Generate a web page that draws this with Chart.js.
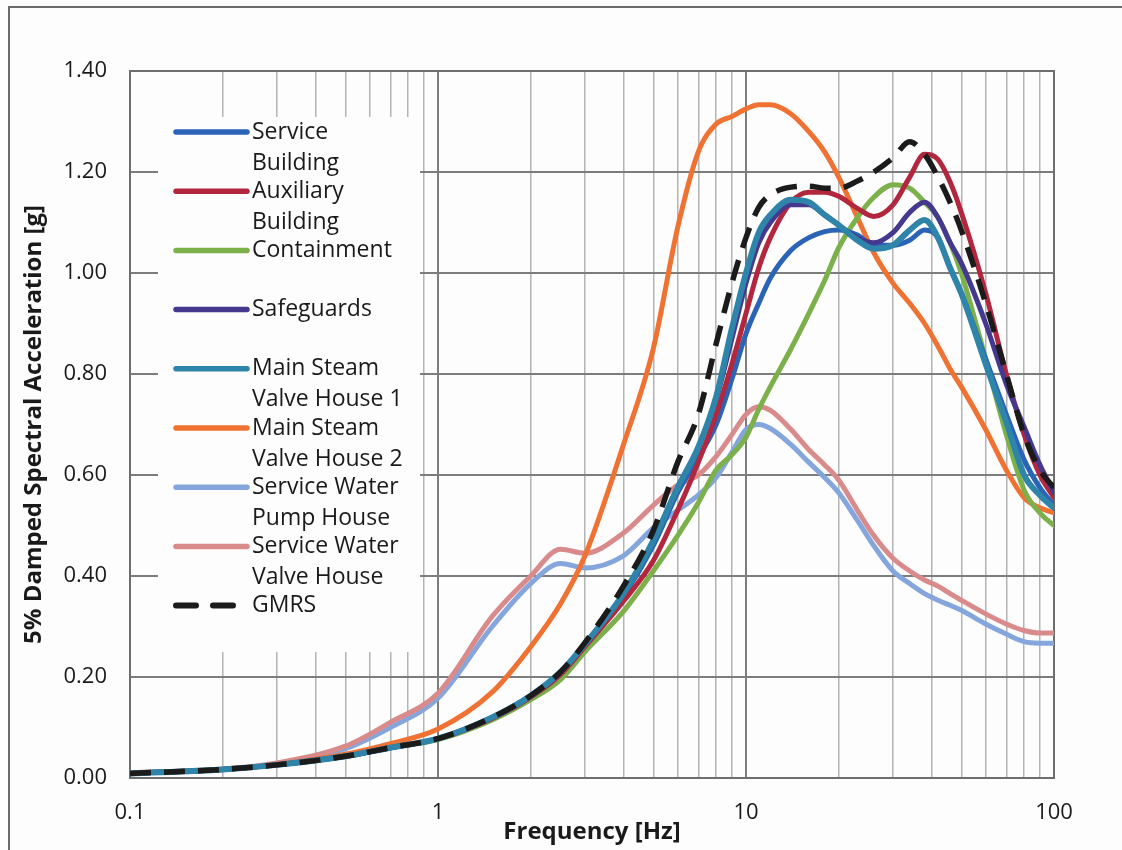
<!DOCTYPE html>
<html>
<head>
<meta charset="utf-8">
<script src="https://cdn.jsdelivr.net/npm/chart.js@4.4.1/dist/chart.umd.min.js"></script>
<style>
  html, body { margin: 0; padding: 0; background: #fdfdfd; }
  #wrap { width: 1122px; height: 850px; position: relative; }
</style>
</head>
<body>
<div id="wrap"><canvas id="c" width="1122" height="850"></canvas></div>
<script>
// ---- Data ----
const freqs = [0.1,0.2,0.3,0.5,0.7,1,1.5,2,2.5,3,4,5,6,7,8,9,10,11,12,14,16,18,20,23,26,30,34,38,42,46,50,60,70,80,90,100];

const serviceBuilding   = [0.009,0.017,0.026,0.043,0.060,0.078,0.120,0.162,0.207,0.262,0.360,0.460,0.565,0.635,0.700,0.790,0.880,0.940,0.990,1.045,1.070,1.082,1.085,1.075,1.055,1.055,1.065,1.085,1.070,1.010,0.960,0.830,0.720,0.630,0.575,0.540];
const auxiliaryBuilding = [0.009,0.017,0.026,0.043,0.060,0.078,0.118,0.160,0.205,0.260,0.350,0.430,0.530,0.625,0.720,0.820,0.920,1.010,1.070,1.140,1.160,1.160,1.152,1.128,1.112,1.135,1.190,1.235,1.225,1.180,1.120,0.960,0.800,0.680,0.600,0.555];
const containment       = [0.009,0.017,0.026,0.043,0.060,0.076,0.115,0.155,0.195,0.250,0.330,0.410,0.480,0.545,0.610,0.640,0.675,0.730,0.775,0.850,0.920,0.985,1.050,1.110,1.150,1.175,1.168,1.140,1.110,1.060,1.000,0.830,0.680,0.570,0.525,0.500];
const safeguards        = [0.009,0.017,0.026,0.043,0.060,0.078,0.120,0.163,0.210,0.265,0.365,0.470,0.575,0.655,0.750,0.870,0.980,1.060,1.100,1.135,1.135,1.115,1.095,1.070,1.060,1.080,1.120,1.140,1.110,1.060,1.020,0.900,0.780,0.695,0.620,0.565];
const mainSteamVH1      = [0.009,0.017,0.026,0.043,0.060,0.078,0.120,0.163,0.210,0.265,0.365,0.470,0.575,0.655,0.755,0.890,1.000,1.080,1.115,1.145,1.140,1.115,1.095,1.065,1.048,1.055,1.085,1.105,1.070,1.010,0.960,0.820,0.705,0.600,0.560,0.535];
const mainSteamVH2      = [0.009,0.017,0.027,0.047,0.068,0.097,0.170,0.260,0.345,0.440,0.660,0.850,1.090,1.240,1.295,1.310,1.325,1.333,1.333,1.315,1.280,1.240,1.190,1.110,1.040,0.980,0.940,0.900,0.855,0.810,0.775,0.690,0.610,0.555,0.535,0.525];
const swPumpHouse       = [0.009,0.017,0.028,0.058,0.100,0.158,0.300,0.385,0.425,0.416,0.440,0.495,0.530,0.560,0.595,0.645,0.690,0.700,0.692,0.660,0.625,0.595,0.565,0.510,0.460,0.410,0.385,0.365,0.352,0.342,0.332,0.305,0.285,0.270,0.267,0.267];
const swValveHouse      = [0.010,0.018,0.030,0.063,0.110,0.168,0.320,0.400,0.453,0.445,0.485,0.540,0.580,0.600,0.637,0.680,0.720,0.735,0.728,0.690,0.650,0.620,0.590,0.530,0.480,0.435,0.410,0.392,0.380,0.365,0.352,0.325,0.305,0.292,0.287,0.287];
const gmrs              = [0.009,0.017,0.026,0.043,0.060,0.078,0.120,0.163,0.210,0.268,0.380,0.490,0.625,0.720,0.860,0.980,1.070,1.130,1.155,1.170,1.172,1.168,1.168,1.182,1.200,1.228,1.260,1.235,1.190,1.140,1.085,0.940,0.800,0.680,0.610,0.575];

const seriesNames = ['Service\nBuilding','Auxiliary\nBuilding','Containment','Safeguards','Main Steam\nValve House 1','Main Steam\nValve House 2','Service Water\nPump House','Service Water\nValve House','GMRS'];
const seriesValues = [serviceBuilding, auxiliaryBuilding, containment, safeguards, mainSteamVH1, mainSteamVH2, swPumpHouse, swValveHouse, gmrs];
const seriesColors = ['#2b63b6','#b2273d','#7bb04b','#45398f','#2f84aa','#f07232','#84a6dc','#d98b8c','#1b1b1b'];
const seriesOrder  = [4, 3, 5, 2, 1, 6, 8, 7, 0];

const xMajorTicks = [0.1, 1, 10, 100];
const xTickLabels = ['0.1', '1', '10', '100'];
const xGridValues = [0.1,0.2,0.3,0.4,0.5,0.6,0.7,0.8,0.9,1,2,3,4,5,6,7,8,9,10,20,30,40,50,60,70,80,90,100];
const yMin = 0, yMax = 1.4, yStep = 0.2;

const FONT = "'Open Sans', 'DejaVu Sans', sans-serif";
const TEXT = '#1a1a1a';
const MAJOR = '#7d7d7d';
const MINOR = '#b4b4b4';

const isMajor = v => xMajorTicks.some(m => Math.abs(Math.log10(v) - Math.log10(m)) < 1e-6);

const datasets = seriesValues.map((vals, i) => ({
  label: seriesNames[i].replace('\n', ' '),
  data: freqs.map((f, k) => ({ x: f, y: vals[k] })),
  borderColor: seriesColors[i],
  backgroundColor: seriesColors[i],
  borderWidth: i === 8 ? 5.5 : (i === 4 ? 6 : 5),
  borderDash: i === 8 ? [21, 13] : [],
  borderCapStyle: i === 8 ? 'butt' : 'round',
  borderJoinStyle: 'round',
  pointRadius: 0,
  cubicInterpolationMode: 'monotone',
  fill: false,
  order: seriesOrder[i]
}));

const framePlugin = {
  id: 'frame',
  beforeDraw(chart) {
    const ctx = chart.ctx;
    ctx.save();
    ctx.fillStyle = '#fdfdfd';
    ctx.fillRect(0, 0, chart.width, chart.height);
    ctx.strokeStyle = '#6a6a6a';
    ctx.lineWidth = 2;
    ctx.strokeRect(9, 7, chart.width + 20, chart.height + 20);
    ctx.restore();
  },
  beforeDatasetsDraw(chart) {
    const ctx = chart.ctx;
    const a = chart.chartArea;
    ctx.save();
    // legend box (white, covers grid)
    const bx = a.left + 28, by = a.top + 46, bw = 262, bh = 535;
    ctx.fillStyle = '#fdfdfd';
    ctx.fillRect(bx, by, bw, bh);
    // plot frame
    ctx.strokeStyle = '#6e6e6e';
    ctx.lineWidth = 2;
    ctx.strokeRect(a.left, a.top, a.right - a.left, a.bottom - a.top);
    // legend entries
    ctx.font = "23px " + FONT;
    ctx.textBaseline = 'middle';
    ctx.textAlign = 'left';
    const x0 = a.left + 44, x1 = a.left + 117, tx = a.left + 122;
    seriesNames.forEach((name, i) => {
      const y = a.top + 61 + i * 59.2;
      ctx.save();
      ctx.strokeStyle = seriesColors[i];
      ctx.lineWidth = i === 8 ? 6 : 5.5;
      ctx.lineCap = 'round';
      if (i === 8) ctx.setLineDash([20, 17]);
      ctx.beginPath();
      ctx.moveTo(x0 + 2, y);
      ctx.lineTo(x1, y);
      ctx.stroke();
      ctx.restore();
      ctx.fillStyle = TEXT;
      name.split('\n').forEach((line, j) => ctx.fillText(line, tx, y + j * 31));
    });
    ctx.restore();
  }
};

new Chart(document.getElementById('c'), {
  type: 'line',
  data: { datasets },
  plugins: [framePlugin],
  options: {
    responsive: false,
    animation: false,
    devicePixelRatio: 1,
    layout: { padding: { left: 0, top: 71, right: 68, bottom: 0 } },
    plugins: { legend: { display: false }, tooltip: { enabled: false } },
    scales: {
      x: {
        type: 'logarithmic',
        min: 0.1, max: 100,
        afterBuildTicks(scale) {
          scale.ticks = xGridValues.map(v => ({ value: v, major: isMajor(v) }));
        },
        afterFit(scale) { scale.height = 72; },
        ticks: {
          autoSkip: false, maxRotation: 0, minRotation: 0,
          padding: 22,
          color: TEXT,
          font: { family: FONT, size: 22 },
          callback(value) {
            const idx = xMajorTicks.findIndex(m => Math.abs(Math.log10(value) - Math.log10(m)) < 1e-6);
            return idx >= 0 ? xTickLabels[idx] : '';
          }
        },
        grid: {
          drawTicks: false,
          color: c => (c.tick && isMajor(c.tick.value)) ? MAJOR : MINOR,
          lineWidth: c => (c.tick && isMajor(c.tick.value)) ? 2 : 1.5
        },
        border: { display: true, color: '#6e6e6e', width: 2 },
        title: {
          display: true, text: 'Frequency [Hz]', color: TEXT,
          font: { family: FONT, size: 24, weight: 'bold' },
          padding: { top: 0, bottom: 3 }
        }
      },
      y: {
        type: 'linear',
        min: yMin, max: yMax,
        afterFit(scale) { scale.width = 130; },
        ticks: {
          stepSize: yStep,
          padding: 23,
          color: TEXT,
          font: { family: FONT, size: 22 },
          callback: v => Number(v).toFixed(2)
        },
        grid: { drawTicks: false, color: MAJOR, lineWidth: 2 },
        border: { display: true, color: '#6e6e6e', width: 2 },
        title: {
          display: true, text: '5% Damped Spectral Acceleration [g]', color: TEXT,
          font: { family: FONT, size: 24, weight: 'bold' },
          padding: { top: 20, bottom: 0 }
        }
      }
    }
  }
});
</script>
</body>
</html>
